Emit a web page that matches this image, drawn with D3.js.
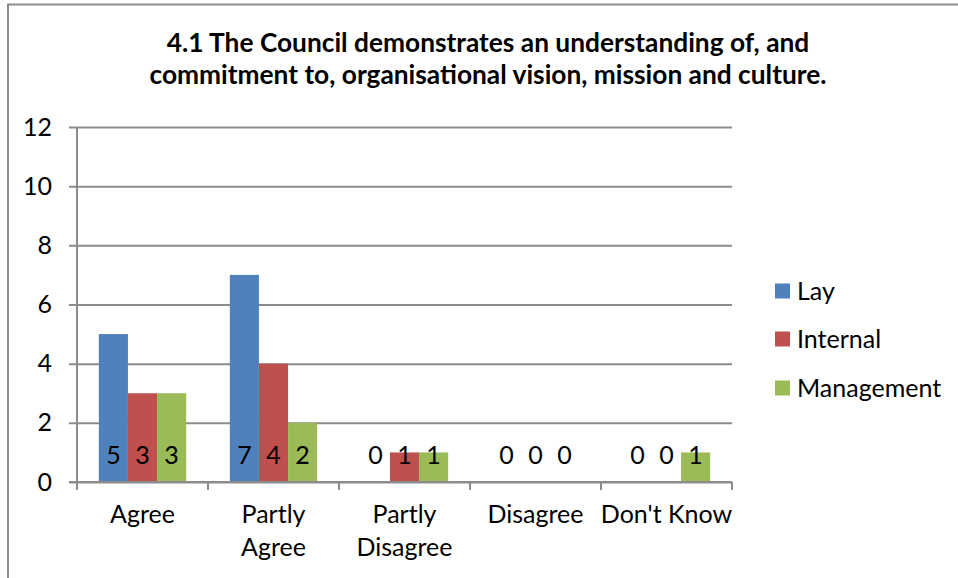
<!DOCTYPE html>
<html>
<head>
<meta charset="utf-8">
<script src="https://cdn.jsdelivr.net/npm/d3@7"></script>
<style>
  body { margin: 0; background: #fff; }
  text { font-family: Lato, "Open Sans", sans-serif; fill: #000; }
</style>
</head>
<body>
<div id="chart"></div>
<script>
var categories = [["Agree"], ["Partly", "Agree"], ["Partly", "Disagree"], ["Disagree"], ["Don't Know"]];
var seriesNames = ["Lay", "Internal", "Management"];
var lay = [5, 7, 0, 0, 0];
var internal = [3, 4, 1, 0, 0];
var management = [3, 2, 1, 0, 1];
var yTicks = [0, 2, 4, 6, 8, 10, 12];
var titleLines = ["4.1 The Council demonstrates an understanding of, and",
    "commitment to, organisational vision, mission and culture."];

var colors = ["#4F81BD", "#C0504D", "#9BBB59"];
var values = [lay, internal, management];

var W = 958, H = 578;
var margin = { top: 127, left: 77, right: 226, bottom: 96 },
    width = W - margin.left - margin.right,
    height = H - margin.top - margin.bottom;

var svg = d3.select("#chart").append("svg")
    .attr("width", W)
    .attr("height", H);

// outer chart border (runs off the right / bottom edge)
svg.append("rect")
    .attr("x", 8).attr("y", 4.5)
    .attr("width", W + 20).attr("height", H + 20)
    .attr("fill", "none")
    .attr("stroke", "#8c8c8c")
    .attr("stroke-width", 2);

svg.append("text")
    .attr("x", 488)
    .attr("y", 52)
    .attr("text-anchor", "middle")
    .attr("font-size", "26.3px")
    .attr("font-weight", "700")
    .selectAll("tspan")
    .data(titleLines)
    .enter().append("tspan")
    .attr("x", 488)
    .attr("dy", function (d, i) { return i === 0 ? 0 : 32; })
    .text(function (d) { return d; });

var g = svg.append("g")
    .attr("transform", "translate(" + margin.left + "," + margin.top + ")");

var x = d3.scaleBand()
    .domain(d3.range(categories.length))
    .range([0, width]);
var x1 = d3.scaleBand()
    .domain(seriesNames)
    .range([0, x.bandwidth()])
    .paddingOuter(0.75);
var y = d3.scaleLinear()
    .domain([0, 12])
    .range([height, 0]);

// gridlines + y axis
var yAxis = g.append("g")
    .call(d3.axisLeft(y).tickValues(yTicks).tickSize(-width).tickSizeOuter(0).tickPadding(0));
yAxis.select(".domain").remove();
yAxis.selectAll(".tick line")
    .attr("x1", -8)
    .attr("stroke", "#8c8c8c")
    .attr("stroke-width", 2);
yAxis.selectAll(".tick text")
    .attr("x", -25)
    .attr("font-size", "25px")
    .attr("font-family", "Lato, sans-serif")
    .attr("fill", "#000");

g.append("line")
    .attr("x1", 0).attr("x2", 0)
    .attr("y1", 0).attr("y2", height + 8)
    .attr("stroke", "#8c8c8c")
    .attr("stroke-width", 2);

// bars
var groups = g.selectAll(".grp")
    .data(categories)
    .enter().append("g")
    .attr("class", "grp")
    .attr("transform", function (d, i) { return "translate(" + x(i) + ",0)"; });

groups.selectAll("rect")
    .data(function (d, i) { return seriesNames.map(function (s, j) { return { s: s, j: j, v: values[j][i] }; }); })
    .enter().append("rect")
    .attr("x", function (d) { return x1(d.s); })
    .attr("width", x1.bandwidth())
    .attr("y", function (d) { return y(d.v); })
    .attr("height", function (d) { return height - y(d.v); })
    .attr("fill", function (d) { return colors[d.j]; });

groups.selectAll(".lbl")
    .data(function (d, i) { return seriesNames.map(function (s, j) { return { s: s, j: j, v: values[j][i] }; }); })
    .enter().append("text")
    .attr("class", "lbl")
    .attr("x", function (d) { return x1(d.s) + x1.bandwidth() / 2; })
    .attr("y", y(0) - 18)
    .attr("text-anchor", "middle")
    .attr("font-size", "25px")
    .text(function (d) { return d.v; });

// x axis line + category ticks
g.append("line")
    .attr("x1", -8).attr("x2", width)
    .attr("y1", height).attr("y2", height)
    .attr("stroke", "#8c8c8c")
    .attr("stroke-width", 2);
g.selectAll(".xtick")
    .data(d3.range(categories.length + 1))
    .enter().append("line")
    .attr("x1", function (d) { return d * x.step(); })
    .attr("x2", function (d) { return d * x.step(); })
    .attr("y1", height).attr("y2", height + 8)
    .attr("stroke", "#8c8c8c")
    .attr("stroke-width", 2);

var catText = g.selectAll(".cat")
    .data(categories)
    .enter().append("text")
    .attr("class", "cat")
    .attr("text-anchor", "middle")
    .attr("font-size", "25px")
    .attr("y", height + 41);
catText.selectAll("tspan")
    .data(function (d, i) { return d.map(function (t) { return { t: t, i: i }; }); })
    .enter().append("tspan")
    .attr("x", function (d) { return x(d.i) + x.bandwidth() / 2; })
    .attr("dy", function (d, k) { return k === 0 ? 0 : 33; })
    .text(function (d) { return d.t; });

// legend
var legend = svg.append("g")
    .attr("transform", "translate(775,0)");
var legendY = [291, 339, 388];
legend.selectAll("rect")
    .data(seriesNames)
    .enter().append("rect")
    .attr("x", 0)
    .attr("y", function (d, i) { return legendY[i] - 7.5; })
    .attr("width", 15).attr("height", 15)
    .attr("fill", function (d, i) { return colors[i]; });
legend.selectAll("text")
    .data(seriesNames)
    .enter().append("text")
    .attr("x", 22)
    .attr("y", function (d, i) { return legendY[i]; })
    .attr("dy", "0.35em")
    .attr("font-size", "25px")
    .text(function (d) { return d; });
</script>
</body>
</html>
